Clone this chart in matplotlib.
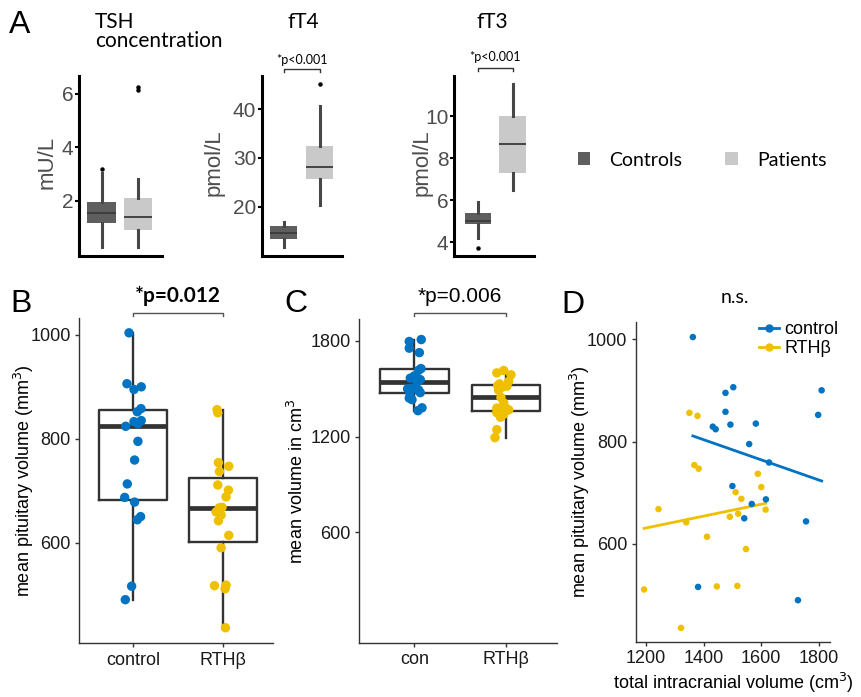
import matplotlib
matplotlib.use("Agg")
import matplotlib.pyplot as plt
import matplotlib.transforms as mtransforms
from matplotlib.patches import Patch
from matplotlib.lines import Line2D
import numpy as np

W, H = 861, 697

# ---- panel A: thyroid hormones, box stats [low whisker, q1, median, q3, high whisker]
a_groups = ["Controls", "Patients"]
tsh_box = [[0.27, 1.16, 1.53, 1.94, 3.03], [0.27, 0.90, 1.40, 2.10, 2.80]]
tsh_out = [[3.18], [6.15, 6.25]]
ft4_box = [[11.6, 13.4, 14.6, 15.9, 16.8], [20.3, 25.6, 28.2, 32.4, 40.8]]
ft4_out = [[], [45.3]]
ft3_box = [[4.19, 4.86, 5.03, 5.38, 5.89], [6.5, 7.3, 8.69, 10.0, 11.51]]
ft3_out = [[3.74], []]

# ---- panels B-D: one entry per subject (total intracranial volume cm3, pituitary volume mm3)
ctrl_icv = [1363, 1809, 1503, 1476, 1476, 1797, 1493, 1432, 1442, 1581,
            1558, 1627, 1500, 1616, 1567, 1541, 1755, 1381, 1727]
ctrl_pit = [1004, 900, 906, 895, 858, 852, 833, 829, 824, 835,
            795, 759, 713, 687, 678, 650, 644, 516, 490]
rth_icv = [1351, 1379, 1368, 1383, 1588, 1600, 1511, 1531, 1244, 1615,
           1520, 1491, 1340, 1412, 1547, 1446, 1517, 1194, 1322]
rth_pit = [856, 850, 754, 747, 737, 711, 701, 688, 668, 667,
           659, 653, 642, 614, 590, 517, 518, 511, 436]

# horizontal jitter of the dots as seen in the figure (category units)
ctrl_jit_b = [-0.044, 0.092, -0.067, 0.011, 0.089, 0.048, 0.011, 0.055, -0.081, 0.092,
              0.055, 0.018, -0.063, -0.092, 0.018, 0.085, 0.048, -0.015, -0.085]
rth_jit_b = [-0.065, -0.057, -0.05, 0.065, -0.039, -0.057, 0.061, 0.035, -0.01, -0.04,
             -0.076, -0.02, -0.05, 0.065, -0.02, -0.094, 0.035, 0.024, 0.028]
ctrl_jit_c = [0.04, 0.076, -0.015, 0.065, -0.05, -0.055, 0.047, -0.025, -0.055, 0.0,
              0.065, 0.073, -0.073, 0.047, -0.044, 0.03, -0.055, 0.084, 0.055]
rth_jit_c = [-0.1, -0.1, 0.03, -0.007, 0.055, -0.1, -0.04, -0.07, -0.1, -0.025,
             -0.09, -0.08, -0.025, -0.025, 0.03, -0.055, 0.01, -0.12, -0.06]

BLUE = "#0073C2"
YELLOW = "#EFC000"
A_COLORS = ["#5E5E5E", "#C9C9C9"]
CAL = ["Lato", "DejaVu Sans"]

plt.rcParams["font.family"] = ["Liberation Sans", "DejaVu Sans"]

fig = plt.figure(figsize=(W / 100, H / 100), dpi=100)


def px_rect(x0, y0, x1, y1):
    return [x0 / W, 1 - y1 / H, (x1 - x0) / W, (y1 - y0) / H]


def fx(px):
    return px / W


def fy(py):
    return 1 - py / H


def bracket(ax, ypx, text, tpx, size, weight="normal", family=None, color="#555555"):
    tr = mtransforms.blended_transform_factory(ax.transData, fig.transFigure)
    ax.plot([1, 1, 2, 2], [fy(ypx + 3), fy(ypx), fy(ypx), fy(ypx + 3)], transform=tr,
            color=color, lw=1.0, clip_on=False)
    ax.text(1.5, fy(tpx), text, transform=tr, ha="center", va="center",
            fontsize=size, fontweight=weight, family=family)


def thyroid_panel(rect, boxes, outliers, xlim, ylim, yticks):
    ax = fig.add_axes(px_rect(*rect))
    stats = []
    for b, o in zip(boxes, outliers):
        stats.append(dict(whislo=b[0], q1=b[1], med=b[2], q3=b[3], whishi=b[4], fliers=o))
    art = ax.bxp(stats, positions=[1, 2], widths=0.76, patch_artist=True, showcaps=False,
                 boxprops=dict(linewidth=0),
                 whiskerprops=dict(color="#474747", linewidth=2.2),
                 medianprops=dict(color="#3a3a3a", linewidth=1.3),
                 flierprops=dict(marker="o", markersize=2.2, markerfacecolor="black",
                                 markeredgecolor="black"))
    for patch, c in zip(art["boxes"], A_COLORS):
        patch.set_facecolor(c)
    ax.set_xlim(*xlim)
    ax.set_ylim(*ylim)
    ax.set_yticks(yticks)
    ax.set_xticks([])
    for s in ["top", "right"]:
        ax.spines[s].set_visible(False)
    for s in ["left", "bottom"]:
        ax.spines[s].set_linewidth(2.2)
        ax.spines[s].set_color("black")
    ax.tick_params(axis="y", length=3, width=1.5, color="black", labelcolor="#4D4D4D",
                   labelsize=15, pad=1)
    return ax


# ---------------- panel A ----------------
ax_tsh = thyroid_panel((79, 76, 162, 256), tsh_box, tsh_out, (0.39, 2.64), (-0.07, 6.67), [2, 4, 6])
ax_tsh.set_ylabel("mU/L", fontsize=16, color="#4D4D4D")
ax_tsh.yaxis.set_label_coords((58 - 79) / 83, 0.52)

ax_ft4 = thyroid_panel((261.7, 76, 341.7, 256), ft4_box, ft4_out, (0.385, 2.62), (9.8, 46.9), [20, 30, 40])
ax_ft4.set_ylabel("pmol/L", fontsize=16, color="#4D4D4D")
ax_ft4.yaxis.set_label_coords((225 - 261.7) / 80, 0.52)

ax_ft3 = thyroid_panel((454, 76, 534.3, 256), ft3_box, ft3_out, (0.30, 2.63), (3.34, 11.91), [4, 6, 8, 10])
ax_ft3.set_ylabel("pmol/L", fontsize=16, color="#4D4D4D")
ax_ft3.yaxis.set_label_coords((433 - 454) / 80.3, 0.52)

fig.text(fx(9), fy(33), "A", fontsize=23, va="baseline")
fig.text(fx(95), fy(22), "TSH", fontsize=15, va="center", family=CAL)
fig.text(fx(95), fy(41), "concentration", fontsize=15, va="center", family=CAL)
fig.text(fx(303), fy(22), "fT4", fontsize=15, va="center", ha="center", family=CAL)
fig.text(fx(492), fy(22), "fT3", fontsize=15, va="center", ha="center", family=CAL)
bracket(ax_ft4, 69, "*p<0.001", 60, 9, family=CAL, color="#333333")
bracket(ax_ft3, 68, "*p<0.001", 57, 9, family=CAL, color="#333333")

fig.legend(handles=[Patch(facecolor=c, edgecolor="none", label=g) for c, g in zip(A_COLORS, a_groups)],
           loc="center left", bbox_to_anchor=(fx(560), fy(160)), ncol=2, frameon=False,
           handlelength=0.65, handleheight=0.65, handletextpad=1.0, columnspacing=2.2,
           prop=dict(family=CAL, size=14))


# ---------------- panels B and C ----------------
def volume_panel(rect, c_vals, r_vals, c_jit, r_jit, ylim, yticks, xlabels, ylabel, label_right):
    ax = fig.add_axes(px_rect(*rect))
    ax.boxplot([c_vals, r_vals], positions=[1, 2], widths=0.75, showfliers=False, showcaps=False,
               boxprops=dict(color="#333333", linewidth=1.7),
               whiskerprops=dict(color="#333333", linewidth=1.7),
               medianprops=dict(color="#333333", linewidth=3.4))
    ax.scatter(1 + np.array(c_jit), c_vals, s=46, color=BLUE, edgecolors="none", zorder=3)
    ax.scatter(2 + np.array(r_jit), r_vals, s=46, color=YELLOW, edgecolors="none", zorder=3)
    ax.set_xlim(0.4, 2.56)
    ax.set_ylim(*ylim)
    ax.set_yticks(yticks)
    ax.set_xticks([1, 2])
    ax.set_xticklabels(xlabels)
    for s in ["top", "right"]:
        ax.spines[s].set_visible(False)
    for s in ["left", "bottom"]:
        ax.spines[s].set_linewidth(1.0)
        ax.spines[s].set_color("#333333")
    ax.tick_params(length=3, width=1, color="#333333", labelcolor="#1a1a1a", labelsize=13, pad=3)
    ax.set_ylabel(ylabel, fontsize=13)
    ax.yaxis.set_label_coords((label_right - rect[0]) / (rect[2] - rect[0]), 0.5)
    return ax


ax_b = volume_panel((79, 318.3, 273.3, 643.3), ctrl_pit, rth_pit, ctrl_jit_b, rth_jit_b,
                    (406, 1032), [600, 800, 1000], ["control", "RTHβ"],
                    "mean pituitary volume (mm$^3$)", 36)
bracket(ax_b, 313.3, "*p=0.012", 296, 15, weight="bold", family=CAL)
fig.text(fx(10), fy(311.7), "B", fontsize=23, va="baseline")

ax_c = volume_panel((359.3, 319.3, 557.3, 642.7), ctrl_icv, rth_icv, ctrl_jit_c, rth_jit_c,
                    (-92, 1936), [600, 1200, 1800], ["con", "RTHβ"],
                    "mean volume in cm$^3$", 307)
bracket(ax_c, 313.3, "*p=0.006", 296, 15)
fig.text(fx(284), fy(311.7), "C", fontsize=23, va="baseline")

# ---------------- panel D ----------------
ax_d = fig.add_axes(px_rect(635.7, 321.7, 830, 641.7))
for xs, ys, col in [(ctrl_icv, ctrl_pit, BLUE), (rth_icv, rth_pit, YELLOW)]:
    ax_d.scatter(xs, ys, s=22, color=col, edgecolors="none", zorder=3)
    fit = np.polyfit(xs, ys, 1)
    xr = np.array([min(xs), max(xs)])
    ax_d.plot(xr, np.polyval(fit, xr), color=col, lw=2)
ax_d.set_xlim(1165, 1838)
ax_d.set_ylim(409, 1034)
ax_d.set_xticks([1200, 1400, 1600, 1800])
ax_d.set_yticks([600, 800, 1000])
for s in ["top", "right"]:
    ax_d.spines[s].set_visible(False)
for s in ["left", "bottom"]:
    ax_d.spines[s].set_linewidth(1.0)
    ax_d.spines[s].set_color("#333333")
ax_d.tick_params(length=3, width=1, color="#333333", labelcolor="#1a1a1a", labelsize=13, pad=3)
ax_d.set_ylabel("mean pituitary volume (mm$^3$)", fontsize=13)
ax_d.yaxis.set_label_coords((592 - 635.7) / 194.3, 0.5)
ax_d.set_xlabel("total intracranial volume (cm$^3$)", fontsize=13, labelpad=3)
handles = [Line2D([], [], color=BLUE, marker="o", ms=5, lw=2, label="control"),
           Line2D([], [], color=YELLOW, marker="o", ms=5, lw=2, label="RTHβ")]
ax_d.legend(handles=handles, loc="upper left", bbox_to_anchor=(0.59, 1.03), frameon=False,
            fontsize=13, handlelength=1.1, handletextpad=0.3, labelspacing=0.1, borderpad=0)
fig.text(fx(735), fy(298), "n.s.", fontsize=14, ha="center", va="center", family=CAL)
fig.text(fx(561), fy(313.3), "D", fontsize=23, va="baseline")

fig.savefig("out.png", dpi=100)
